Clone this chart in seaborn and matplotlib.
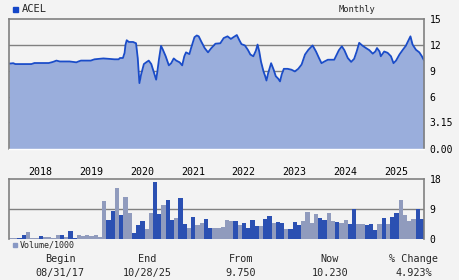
import numpy as np
import pandas as pd
import matplotlib
matplotlib.use("Agg")
import matplotlib.pyplot as plt
from matplotlib.patches import Rectangle
import seaborn as sns

# ---------------- data ----------------
ticker = "ACEL"
period = "Monthly"

# price (month offset from 08/31/17, price)
price_t = [0, 1, 1.5, 5.3, 6, 9.4, 10.4, 11.2, 12, 14.3, 15.9, 16.4, 17, 19.3, 20.2, 22.3,
           24.9, 25.9, 26.2, 26.9, 27.3, 27.5, 27.8, 28.3, 29.3, 30.0, 30.4, 30.7, 30.8,
           31.2, 31.85, 32.4, 33.0, 33.6, 34.1, 34.75, 35.0, 35.4, 35.9, 36.3, 37.0, 37.75,
           38.3, 38.9, 39.5, 40.3, 40.9, 41.4, 41.8, 42.6, 43.0, 43.8, 44.35, 44.8, 45.4,
           46.2, 47.0, 47.7, 48.75, 49.9, 50.7, 51.6, 52.4, 53.0, 53.8, 54.4, 54.9, 55.7,
           56.4, 57.0, 57.7, 58.3, 58.7, 59.1, 59.5, 60.1, 60.5, 60.8, 61.2, 61.9, 62.5,
           63.0, 63.6, 64.0, 64.4, 64.9, 65.8, 66.7, 67.5, 68.3, 69.1, 69.9, 70.7, 71.7,
           72.5, 73.2, 73.8, 74.5, 75.3, 76.8, 77.2, 77.9, 78.6, 79.2, 80.0, 80.8, 81.5,
           82.1, 82.7, 83.4, 84.3, 85.1, 85.9, 86.5, 86.9, 87.5, 87.8, 88.6, 89.4, 90.2,
           90.8, 91.4, 92.2, 93.0, 93.7, 94.4, 94.8, 95.3, 96.1, 96.9, 97.5, 98.0]
price_v = [9.85, 9.9, 9.8, 9.8, 9.92, 9.92, 10.05, 10.2, 10.1, 10.1, 10.0, 10.1, 10.2, 10.2,
           10.35, 10.45, 10.35, 10.35, 10.5, 10.5, 11.1, 12.0, 12.55, 12.35, 12.35, 12.2,
           10.5, 8.2, 7.6, 8.6, 9.8, 10.0, 10.2, 9.8, 9.0, 8.0, 8.8, 10.3, 11.9, 11.5, 10.7,
           9.65, 9.9, 10.45, 10.2, 10.0, 9.65, 10.7, 11.15, 10.95, 11.65, 12.9, 13.1, 13.0,
           12.4, 11.65, 11.15, 11.6, 12.15, 12.2, 12.8, 13.0, 12.7, 12.9, 13.15, 12.55,
           12.1, 11.95, 11.45, 10.9, 10.7, 11.35, 12.05, 11.25, 10.1, 8.95, 8.4, 7.9, 8.75,
           9.9, 9.15, 8.4, 8.1, 7.8, 8.6, 9.25, 9.25, 9.15, 8.95, 9.25, 9.75, 10.9, 11.45,
           11.95, 11.25, 10.5, 9.9, 10.1, 10.3, 10.3, 10.7, 11.4, 11.85, 11.4, 10.5, 10.05,
           10.4, 11.25, 12.25, 11.95, 11.65, 11.4, 11.0, 11.25, 11.65, 11.25, 10.7, 11.25,
           11.1, 10.7, 9.9, 10.2, 10.9, 11.45, 11.9, 12.6, 13.0, 12.05, 11.45, 11.15, 10.7,
           10.23]

# monthly volume (thousands) and bar shade (D = dark, L = light)
volume = [0.2, 0.3, 0.3, 1.1, 2.0, 0.2, 0.2, 0.8, 0.5, 0.5,
          0.3, 1.1, 1.1, 0.5, 2.3, 0.2, 1.1, 0.8, 1.1, 0.8,
          1.1, 0.5, 11.4, 5.7, 8.4, 15.4, 7.2, 12.6, 7.8, 1.7,
          4.1, 5.4, 2.9, 7.8, 17.2, 7.5, 10.2, 11.7, 5.7, 6.3,
          12.3, 4.4, 3.2, 6.6, 4.1, 4.7, 6.0, 3.2, 3.2, 3.2,
          3.5, 5.7, 5.4, 5.4, 4.1, 4.7, 3.2, 5.7, 3.8, 3.8,
          6.0, 6.9, 4.7, 5.1, 4.7, 2.9, 2.9, 5.1, 4.1, 5.4,
          8.1, 4.7, 7.5, 6.3, 5.7, 7.8, 5.4, 5.1, 4.7, 5.7,
          4.4, 9.0, 4.4, 4.4, 4.1, 4.4, 2.6, 4.4, 6.3, 4.4,
          6.6, 7.8, 11.7, 7.2, 5.4, 6.0, 9.0, 6.0]
shade = ["L", "L", "D", "D", "L", "L", "L", "D", "L", "L",
         "L", "L", "D", "L", "D", "D", "L", "L", "L", "L",
         "L", "L", "L", "D", "D", "L", "D", "L", "L", "D",
         "D", "D", "L", "L", "D", "D", "L", "D", "D", "L",
         "D", "D", "L", "D", "L", "L", "D", "D", "L", "L",
         "L", "L", "L", "D", "L", "D", "D", "D", "D", "L",
         "D", "D", "L", "D", "D", "L", "D", "D", "D", "L",
         "L", "L", "L", "D", "D", "L", "L", "D", "L", "L",
         "D", "D", "L", "L", "D", "D", "D", "L", "D", "L",
         "D", "D", "L", "L", "L", "L", "D", "D"]

years = ["2018", "2019", "2020", "2021", "2022", "2023", "2024", "2025"]
price_ticks = [0, 3.15, 6, 9, 12, 15]
price_tick_labels = ["0.00", "3.15", "6", "9", "12", "15"]
vol_ticks = [0, 9, 18]
vol_tick_labels = ["0", "9", "18"]

footer_heads = ["Begin", "End", "From", "Now", "% Change"]
footer_vals = ["08/31/17", "10/28/25", "9.750", "10.230", "4.923%"]

# ---------------- style ----------------
BG = "#f3f3f3"
FILL = "#9aaedc"
LINE = "#1a4cc8"
DARK = "#1446c8"
LIGHT = "#8898c4"
GRID = "#808080"
FONT = "DejaVu Sans Mono"

sns.set_theme(style="white")
plt.rcParams["font.family"] = [FONT, "DejaVu Sans"]

fig = plt.figure(figsize=(4.6, 2.8), dpi=100, facecolor=BG)
W, H = 460, 280


def axes_px(l, t, r, b):
    return fig.add_axes([l / W, 1 - b / H, (r - l) / W, (b - t) / H])


# ---------------- price panel ----------------
ax = axes_px(9, 19, 424, 149)
ax.set_facecolor(BG)
for y in price_ticks[1:-1]:
    ax.axhline(y, color=GRID, lw=1.0, zorder=0)
ax.fill_between(price_t, 0, price_v, color=FILL, lw=0, zorder=1)
dfp = pd.DataFrame({"t": price_t, "p": price_v})
sns.lineplot(data=dfp, x="t", y="p", ax=ax, color=LINE, lw=1.3, zorder=2)
ax.set_xlim(0, 98)
ax.set_ylim(0, 15)
ax.set_xlabel("")
ax.set_ylabel("")
ax.yaxis.tick_right()
ax.set_yticks(price_ticks)
ax.set_yticklabels(price_tick_labels)
ax.tick_params(axis="y", length=0, pad=4, labelsize=7, colors="black")
ax.set_xticks([7.4 + 12 * i for i in range(len(years))])
ax.set_xticklabels(years)
ax.tick_params(axis="x", length=0, pad=13, labelsize=7.2, colors="black")
for s in ["left", "top", "right"]:
    ax.spines[s].set_color(GRID)
    ax.spines[s].set_linewidth(1.2)
ax.spines["bottom"].set_color("#ffffff")
ax.spines["bottom"].set_linewidth(1.0)

# ---------------- volume panel ----------------
av = axes_px(9, 179, 424, 239)
av.set_facecolor(BG)
av.axhline(9, color=GRID, lw=1.0, zorder=0)
dfv = pd.DataFrame({"m": [str(i) for i in range(len(volume))], "v": volume, "s": shade})
sns.barplot(data=dfv, x="m", y="v", hue="s", palette={"D": DARK, "L": LIGHT},
            dodge=False, width=1.0, linewidth=0, ax=av, legend=False, zorder=2)
av.set_xlim(-0.5, len(volume) - 0.5)
av.set_ylim(0, 18)
av.set_xlabel("")
av.set_ylabel("")
av.set_xticks([])
av.yaxis.tick_right()
av.set_yticks(vol_ticks)
av.set_yticklabels(vol_tick_labels)
av.tick_params(axis="y", length=0, pad=4, labelsize=7, colors="black")
for s in ["left", "top", "right"]:
    av.spines[s].set_color(GRID)
    av.spines[s].set_linewidth(1.2)
av.spines["bottom"].set_visible(False)

# ---------------- header / legends ----------------
fig.patches.append(Rectangle((13 / W, 1 - 12 / H), 5 / W, 5 / H,
                             transform=fig.transFigure, color=DARK))
fig.text(22 / W, 1 - 9.5 / H, ticker, fontsize=7.5, va="center", ha="left")
fig.text(357 / W, 1 - 9.5 / H, period, fontsize=6.3, va="center", ha="center")

fig.patches.append(Rectangle((13 / W, 1 - 247 / H), 4 / W, 4 / H,
                             transform=fig.transFigure, color=LIGHT))
fig.text(20 / W, 1 - 245 / H, "Volume/1000", fontsize=6, va="center", ha="left")

xs = [60, 147, 241, 330, 414]
for x, h, v in zip(xs, footer_heads, footer_vals):
    fig.text(x / W, 1 - 259 / H, h, fontsize=7.3, va="center", ha="center")
    fig.text(x / W, 1 - 273 / H, v, fontsize=7.3, va="center", ha="center")

fig.savefig("out.png", dpi=100, facecolor=BG)
